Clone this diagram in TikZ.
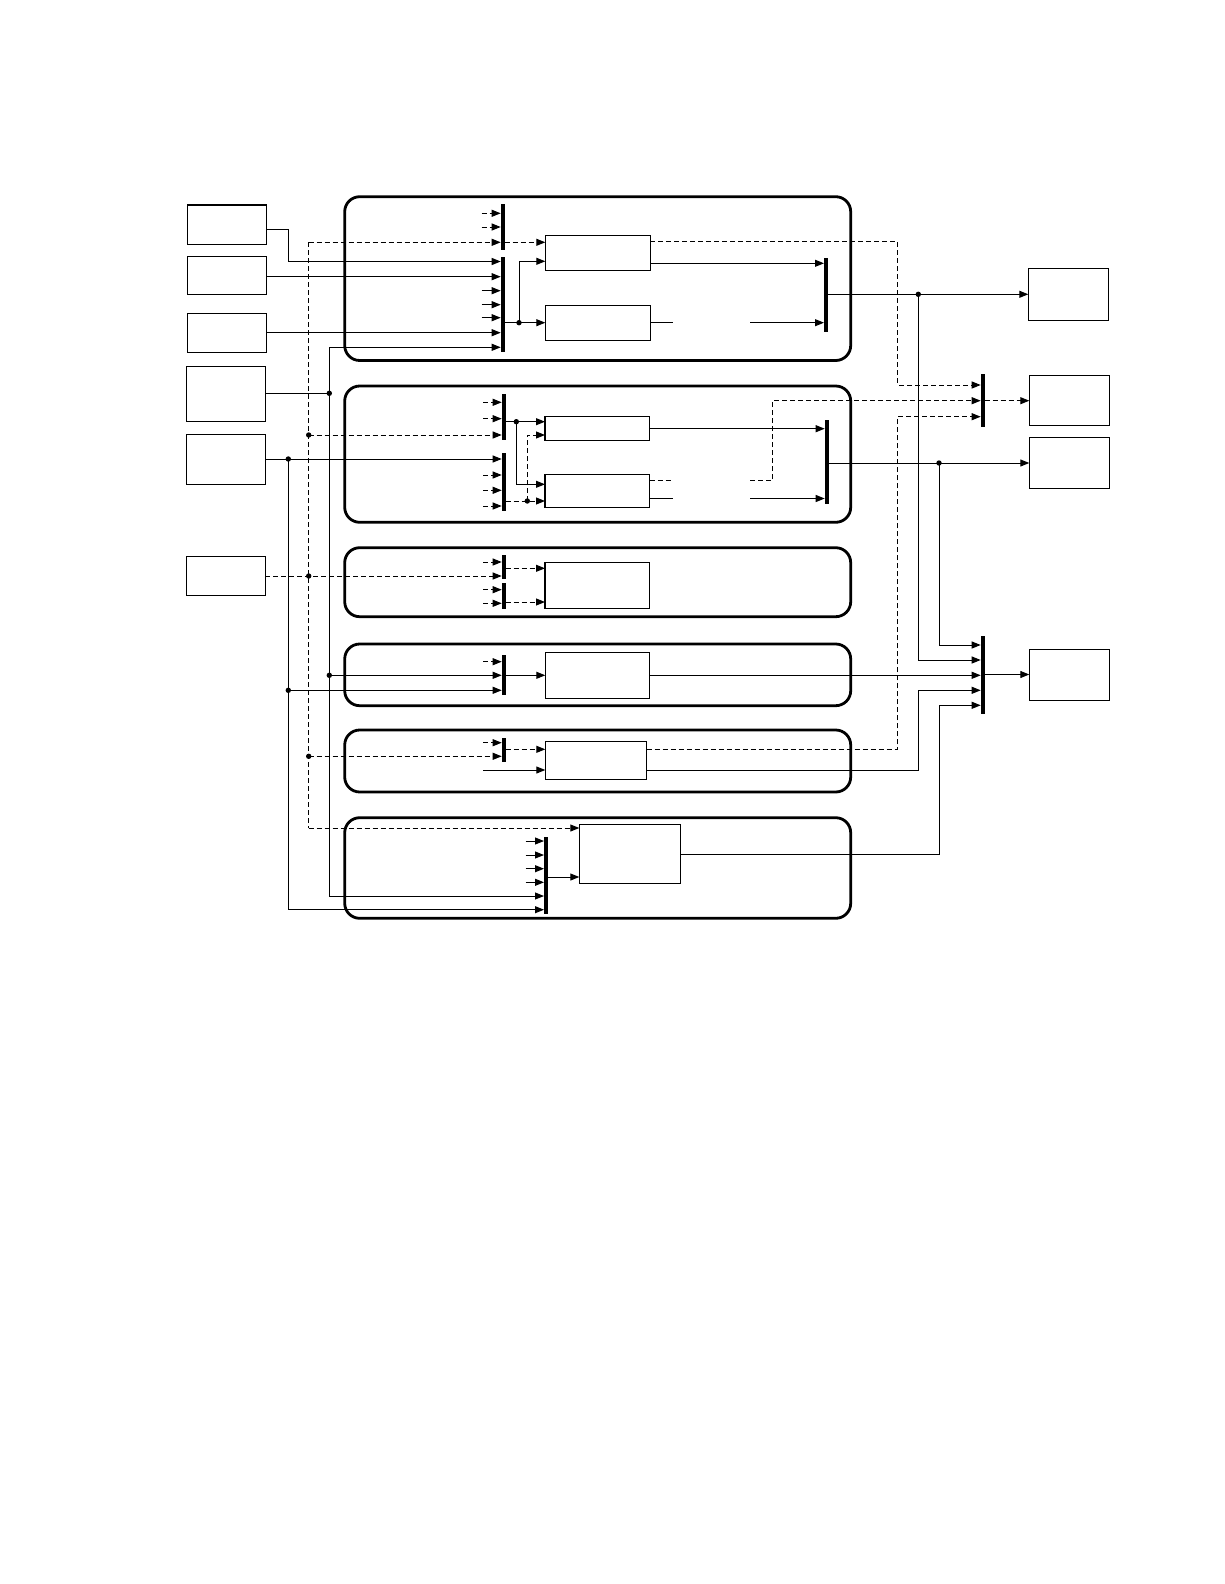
\documentclass[tikz,border=0pt]{standalone}
\usetikzlibrary{arrows.meta}
\newcommand{\NB}[6]{\node[#1, minimum width={(#5-#3)*1pt}, minimum height={(#6-#4)*1pt}] (#2) at ({(#3+#5)/2},{(#4+#6)/2}) {};}
\begin{document}
\begin{tikzpicture}[x=1pt,y=-1pt,line width=1pt,
  blk/.style={draw, line width=1.2pt, inner sep=0pt, outer sep=0pt},
  cont/.style={draw, line width=2.8pt, rounded corners=15pt, inner sep=0pt, outer sep=0pt},
  mux/.style={fill=black, draw=none, inner sep=0pt, outer sep=0pt},
  ar/.style={-{Triangle[length=9pt,width=7pt]}},
  ds/.style={dash pattern=on 5pt off 3pt},
  dot/.style={fill=black}]
\useasboundingbox (0,0) rectangle (1224,1584);
\fill[white] (0,0) rectangle (1224,1584);

% containers
\NB{cont}{C1}{344.7}{196.7}{850.7}{360.5}
\NB{cont}{C2}{344.7}{386}{850.7}{522.3}
\NB{cont}{C3}{344.7}{547.7}{850.7}{616.7}
\NB{cont}{C4}{344.7}{644}{850.7}{705.7}
\NB{cont}{C5}{344.7}{730}{850.7}{792}
\NB{cont}{C6}{344.7}{817.7}{850.7}{918.3}

% left boxes
\NB{blk}{L1}{187.3}{205}{266.7}{244.3}
\NB{blk}{L2}{187.3}{256.3}{266.7}{294.3}
\NB{blk}{L3}{187.3}{313.3}{266.7}{352.3}
\NB{blk}{L4}{186.7}{366.7}{265.3}{421.3}
\NB{blk}{L5}{186.7}{434.3}{265.3}{484.3}
\NB{blk}{L6}{186.7}{556.7}{265.3}{595.3}

% right boxes
\NB{blk}{R1}{1028.3}{268.3}{1108.3}{320.3}
\NB{blk}{R2}{1029.3}{375.3}{1109.3}{425.3}
\NB{blk}{R3}{1029.3}{437.3}{1109.3}{488.3}
\NB{blk}{R4}{1029.3}{649.7}{1109.3}{700.3}

% inner boxes
\NB{blk}{P1}{545.3}{235.3}{650.3}{270.3}
\NB{blk}{P2}{545.3}{305.3}{650.3}{340.3}
\NB{blk}{P3}{545}{416.5}{649.5}{440.3}
\NB{blk}{P4}{545}{474.3}{649.5}{507.5}
\NB{blk}{P5}{545}{562.3}{649.3}{608.3}
\NB{blk}{P6}{545.3}{652.3}{649.3}{698.7}
\NB{blk}{P7}{545.3}{741.3}{646.7}{779.3}
\NB{blk}{P8}{579.3}{824.3}{680.3}{883.3}

% mux bars
\NB{mux}{MA}{500.7}{204}{504.7}{250}
\NB{mux}{MB}{500.7}{257.3}{504.7}{351.7}
\NB{mux}{MC}{824}{258.3}{828}{331.7}
\NB{mux}{MD}{980.7}{374}{984.7}{426.7}
\NB{mux}{MF}{501.7}{394}{505.7}{439.7}
\NB{mux}{MG}{501.7}{453}{505.7}{511}
\NB{mux}{ME}{824.7}{420}{828.7}{504.3}
\NB{mux}{MH}{501.7}{555.3}{505.7}{579}
\NB{mux}{MI}{501.7}{583.3}{505.7}{608.7}
\NB{mux}{MJ}{501.7}{655}{505.7}{694.7}
\NB{mux}{ML}{501.7}{738}{505.7}{761.7}
\NB{mux}{MM}{544}{837.3}{548}{913.7}
\NB{mux}{MK}{980.7}{636}{984.7}{713.7}

% junction points
\coordinate (d1) at (519,322.7);
\coordinate (d2) at (918.3,294.3);
\coordinate (d3) at (329.3,393.3);
\coordinate (d4) at (308.7,435);
\coordinate (d5) at (288.3,459);
\coordinate (d6) at (516.3,421.7);
\coordinate (d7) at (527.3,501);
\coordinate (d8) at (939,463);
\coordinate (d9) at (308.7,576);
\coordinate (d10) at (329.3,675.3);
\coordinate (d11) at (288.3,690.3);
\coordinate (d12) at (308.7,756.3);

% short stub inputs
\foreach \yy in {213.3,227} \draw[ar,ds] (481.7,\yy) -- (MA.west |- 0,\yy);
\foreach \yy in {290.7,304.7,317.7} \draw[ar] (481.7,\yy) -- (MB.west |- 0,\yy);
\foreach \yy in {402.3,418.7} \draw[ar,ds] (483.3,\yy) -- (MF.west |- 0,\yy);
\foreach \yy in {475,490.3,506} \draw[ar,ds] (483.3,\yy) -- (MG.west |- 0,\yy);
\draw[ar,ds] (483.3,562) -- (MH.west |- 0,562);
\foreach \yy in {589.7,603.3} \draw[ar,ds] (483.3,\yy) -- (MI.west |- 0,\yy);
\draw[ar,ds] (483.3,661.7) -- (MJ.west |- 0,661.7);
\draw[ar,ds] (483.3,742.7) -- (ML.west |- 0,742.7);
\foreach \yy in {841,855,868.7,882.3} \draw[ar] (525.7,\yy) -- (MM.west |- 0,\yy);
\draw[ar] (483.3,770) -- (P7.west |- 0,770);

% left inputs
\draw[ar] (L1.east |- 0,229.3) -- (288.3,229.3) -- (288.3,261.5) -- (MB.west |- 0,261.5);
\draw[ar] (L2.east |- 0,276.7) -- (MB.west |- 0,276.7);
\draw[ar] (L3.east |- 0,332.7) -- (MB.west |- 0,332.7);
\draw (L4.east |- d3) -- (d3);
\draw[ar] (329.3,896) -- (329.3,347.3) -- (MB.west |- 0,347.3);
\draw[ar] (329.3,896) -- (MM.west |- 0,896);
\draw[ar] (d10) -- (MJ.west |- d10);

\draw[ds] (308.7,242.3) -- (308.7,828);
\draw[ar,ds] (308.7,242.3) -- (MA.west |- 0,242.3);
\draw[ar,ds] (MA.east |- 0,242.3) -- (P1.west |- 0,242.3);
\draw[ar,ds] (308.7,828) -- (P8.west |- 0,828);
\draw[ar,ds] (d4) -- (MF.west |- d4);
\draw[ar,ds] (L6.east |- d9) -- (MH.west |- d9);
\draw[ar,ds] (d12) -- (ML.west |- d12);

\draw[ar] (L5.east |- d5) -- (MG.west |- d5);
\draw[ar] (d5) -- (288.3,909.7) -- (MM.west |- 0,909.7);
\draw[ar] (d11) -- (MJ.west |- d11);

% container 1 internals
\draw[ar] (MB.east |- d1) -- (P2.west |- d1);
\draw[ar] (d1) -- (519,261.3) -- (P1.west |- 0,261.3);
\draw[ar] (P1.east |- 0,263.3) -- (MC.west |- 0,263.3);
\draw (P2.east |- 0,322.7) -- (673.3,322.7);
\draw[ar] (750,322.7) -- (MC.west |- 0,322.7);
\draw[ds,ar] (P1.east |- 0,241.7) -- (897.7,241.7) -- (897.7,385) -- (MD.west |- 0,385);
\draw[ar] (MC.east |- d2) -- (R1.west |- d2);
\draw[ar] (d2) -- (918.3,660) -- (MK.west |- 0,660);

% container 2 internals
\draw[ar] (MF.east |- d6) -- (P3.west |- d6);
\draw[ar] (d6) -- (516.3,484.3) -- (P4.west |- 0,484.3);
\draw[ar,ds] (MG.east |- d7) -- (P4.west |- d7);
\draw[ar,ds] (d7) -- (527.3,435) -- (P3.west |- 0,435);
\draw[ar] (P3.east |- 0,428.7) -- (ME.west |- 0,428.7);
\draw[ds] (P4.east |- 0,480.7) -- (673.3,480.7);
\draw (P4.east |- 0,498.5) -- (673.3,498.5);
\draw[ar] (750,498.5) -- (ME.west |- 0,498.5);
\draw[ds,ar] (750,480.7) -- (772.3,480.7) -- (772.3,400.7) -- (MD.west |- 0,400.7);
\draw[ar] (ME.east |- d8) -- (R3.west |- d8);
\draw[ar] (d8) -- (939,645) -- (MK.west |- 0,645);
\draw[ds,ar] (MD.east |- 0,400.7) -- (R2.west |- 0,400.7);

% container 3
\draw[ar,ds] (MH.east |- 0,568.3) -- (P5.west |- 0,568.3);
\draw[ar,ds] (MI.east |- 0,602) -- (P5.west |- 0,602);

% container 4
\draw[ar] (MJ.east |- 0,675.3) -- (P6.west |- 0,675.3);
\draw[ar] (P6.east |- 0,675.3) -- (MK.west |- 0,675.3);

% container 5
\draw[ar,ds] (ML.east |- 0,749.3) -- (P7.west |- 0,749.3);
\draw[ds,ar] (P7.east |- 0,749.3) -- (897.7,749.3) -- (897.7,416.7) -- (MD.west |- 0,416.7);
\draw[ar] (P7.east |- 0,770) -- (918.7,770) -- (918.7,690.3) -- (MK.west |- 0,690.3);

% container 6
\draw[ar] (MM.east |- 0,877) -- (P8.west |- 0,877);
\draw[ar] (P8.east |- 0,854) -- (939.3,854) -- (939.3,705.3) -- (MK.west |- 0,705.3);

% output
\draw[ar] (MK.east |- 0,674.5) -- (R4.west |- 0,674.5);

% dots
\foreach \d in {d1,d2,d3,d4,d5,d6,d7,d8,d9,d10,d11,d12} \fill (\d) circle (2.7pt);
\end{tikzpicture}
\end{document}
